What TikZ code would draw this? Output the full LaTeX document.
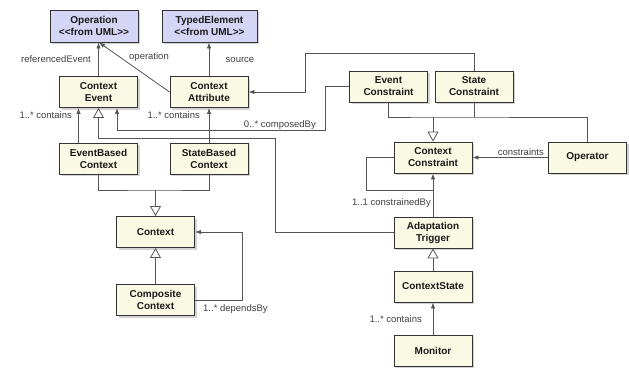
\documentclass[tikz,border=0pt]{standalone}
\usepackage{fontspec}
\setmainfont{Liberation Sans}
\usetikzlibrary{shadows}
\usetikzlibrary{positioning}
\usetikzlibrary{arrows.meta,shapes}
\usetikzlibrary{calc}
\definecolor{cream}{HTML}{FAF9E3}
\definecolor{umlblue}{HTML}{D5D5F6}
\definecolor{edge}{HTML}{555555}

\begin{document}
\begin{tikzpicture}[x=1pt, y=-1pt,
   box/.style={draw=black!80, fill=cream, line width=0.9pt, minimum width=78pt, minimum height=31pt,
               inner sep=1pt, align=center, font=\fontsize{10}{12}\selectfont\bfseries, text=black!90,
               drop shadow={shadow xshift=2pt, shadow yshift=-2pt, opacity=0.35}},
   uml/.style={box, fill=umlblue},
   link/.style={draw=edge, line width=0.8pt},
   assoc/.style={link, -{Latex[length=6pt,width=4.5pt]}},
   gen/.style={link, -{Triangle[fill=white, length=10pt, width=11pt]}},
   lbl/.style={font=\fontsize{9.5}{11}\selectfont, text=black!75, inner sep=0pt}]

 \useasboundingbox (0,0) rectangle (629,367);

 % from UML
 \node[uml, minimum width=88pt, minimum height=32pt] (op) at (94,26) {Operation\\{<}{<}from UML{>}{>}};
 \node[uml, minimum width=95pt, minimum height=32pt] (typed) at (209.5,26) {TypedElement\\{<}{<}from UML{>}{>}};

 % classes
 \foreach \name/\x/\y/\txt in {cevent/98.5/92/{Context\\Event}, cattr/209/92/{Context\\Attribute},
         ebc/98.5/158.5/{EventBased\\Context}, sbc/209/158.5/{StateBased\\Context},
         ctx/155.5/232/{Context}, comp/155.5/300/{Composite\\Context},
         evc/388.5/86.5/{Event\\Constraint}, stc/474/86.5/{State\\Constraint},
         ccon/433/157.5/{Context\\Constraint}, oper/587.5/157.5/{Operator},
         trig/433/232.5/{Adaptation\\Trigger}, cstate/433/286.5/{ContextState},
         mon/433/350.5/{Monitor}} {
      \node[box] (\name) at (\x,\y) {\txt};
 }

 % lines
 \draw[assoc] (cevent.north) -- (cevent.north |- op.south);
 \draw[assoc] (cattr.west) -- ([xshift=5pt]op.south);
 \draw[assoc] (cattr.north) -- (cattr.north |- typed.south);
 \draw[assoc] ([xshift=-20pt]ebc.north) -- ([xshift=-20pt]cevent.south);
 \draw[assoc] (sbc.north) -- (cattr.south);
 \draw[gen] (trig.west) -| (275,138) -| (cevent.south);
 \draw[assoc] (evc.west) -| (325,130) -| ([xshift=18.5pt]cevent.south);
 \draw[assoc] (stc.north) |- (305,53) |- (cattr.east);

 \coordinate (j1) at (155.5,190);
 \draw[link] (ebc.south) |- (j1) -| (sbc.south);
 \draw[gen] (j1) -- (ctx.north);
 \draw[gen] (comp) -- (ctx);
 \draw[assoc] (comp.east) -| (242,232) -- (ctx.east);

 \coordinate (j2) at (433,117);
 \draw[link] (evc.south) |- (j2) -| (oper.north);
 \draw[link] (stc.south) -- (stc.south |- j2);
 \draw[gen] (j2) -- (ccon.north);
 \draw[assoc] (oper.west) -- (ccon.east);
 \draw[assoc] (trig.north) -- (ccon.south);
 \draw[link] (ccon.west) -| (366,190) -- (trig.north |- 0,190);
 \draw[gen] (cstate) -- (trig);
 \draw[assoc] (mon) -- (cstate);

 % labels
 \node[lbl, anchor=east] (lref) at (91,59) {referencedEvent};
 \node[lbl] (loper) at (149,57) {operation};
 \node[lbl] (lsrc) at (240,60) {source};
 \node[lbl, anchor=east] (lcont1) at (72,115) {1..* contains};
 \node[lbl, anchor=east] (lcont2) at (200,115) {1..* contains};
 \node[lbl, anchor=east] (lcomp) at (316,125) {0..* composedBy};
 \node[lbl, anchor=east] (lcons) at (544,152) {constraints};
 \node[lbl, anchor=east] (lcby) at (431,203) {1..1 constrainedBy};
 \node[lbl, anchor=west] (ldep) at (203,309) {1..* dependsBy};
 \node[lbl, anchor=east] (lcont3) at (422,319) {1..* contains};

\end{tikzpicture}
\end{document}
